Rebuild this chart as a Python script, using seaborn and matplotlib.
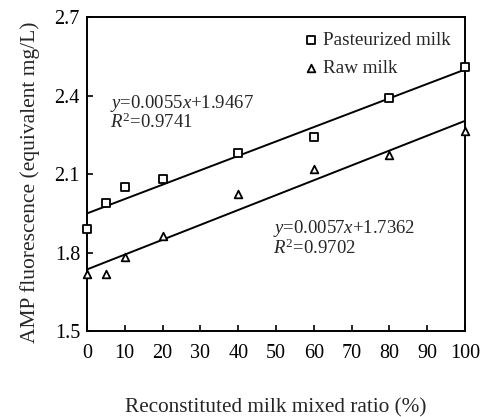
import matplotlib
matplotlib.use("Agg")
import matplotlib.pyplot as plt
import seaborn as sns
import numpy as np
import pandas as pd

ratio = [0, 5, 10, 20, 40, 60, 80, 100]
pasteurized = [1.89, 1.99, 2.05, 2.08, 2.18, 2.24, 2.39, 2.51]
raw = [1.72, 1.72, 1.785, 1.865, 2.025, 2.12, 2.173, 2.266]
series_names = ["Pasteurized milk", "Raw milk"]
eq_texts = [r"$\it{y}$=0.0055$\it{x}$+1.9467" + "\n" + r"$\it{R}^{\rm 2}$=0.9741",
            r"$\it{y}$=0.0057$\it{x}$+1.7362" + "\n" + r"$\it{R}^{\rm 2}$=0.9702"]
xticks = list(range(0, 101, 10))
yticks = [1.5, 1.8, 2.1, 2.4, 2.7]

sns.set_style("ticks")
plt.rcParams['font.family'] = ['Liberation Serif', 'DejaVu Serif']
plt.rcParams['mathtext.fontset'] = 'custom'
plt.rcParams['mathtext.rm'] = 'Liberation Serif'
plt.rcParams['mathtext.it'] = 'Liberation Serif:italic'

df = pd.DataFrame({"ratio": ratio * 2,
                   "value": pasteurized + raw,
                   "type": [series_names[0]] * len(ratio) + [series_names[1]] * len(ratio)})

fig = plt.figure(figsize=(4.83, 4.17), dpi=100)
ax = fig.add_axes([0.180, 0.206, 0.783, 0.753])

markers = {"Pasteurized milk": "s", "Raw milk": "^"}
sizes = {"Pasteurized milk": 40, "Raw milk": 30}
for name in series_names:
    sub = df[df["type"] == name]
    sns.regplot(data=sub, x="ratio", y="value", ax=ax, ci=None, truncate=True,
                scatter=False, line_kws=dict(color="black", lw=1.4))
    sns.scatterplot(data=sub, x="ratio", y="value", ax=ax, marker=markers[name],
                    s=sizes[name], facecolor="white", edgecolor="black", linewidth=1.3,
                    label=name, zorder=3, clip_on=False)

ax.set_xlim(0, 100)
ax.set_ylim(1.5, 2.7)
ax.set_xticks(xticks)
ax.set_yticks(yticks)
ax.set_yticklabels([f"{v:.1f}" for v in yticks])
ax.tick_params(direction="in", length=4, width=1.2, labelsize=14.5, pad=9, colors="black")
ax.tick_params(axis="y", pad=5)
for s in ax.spines.values():
    s.set_linewidth(1.4)
    s.set_color("black")

ax.set_xlabel("Reconstituted milk mixed ratio (%)", fontsize=15.3)
ax.set_ylabel("AMP fluorescence (equivalent mg/L)", fontsize=15.5)
ax.xaxis.set_label_coords(0.5, -0.213)
ax.yaxis.set_label_coords(-0.125, 0.475)

ax.text(6, 2.335, eq_texts[0], fontsize=13.5, va="center", ha="left", linespacing=0.95)
ax.text(49.3, 1.855, eq_texts[1], fontsize=13.5, va="center", ha="left", linespacing=0.95)

leg = ax.legend(loc="upper right", frameon=False, fontsize=13.8, handletextpad=0.15,
                borderaxespad=0.35, labelspacing=0.55, handlelength=1.0,
                bbox_to_anchor=(1.0, 1.0))

fig.savefig("out.png", dpi=100)
